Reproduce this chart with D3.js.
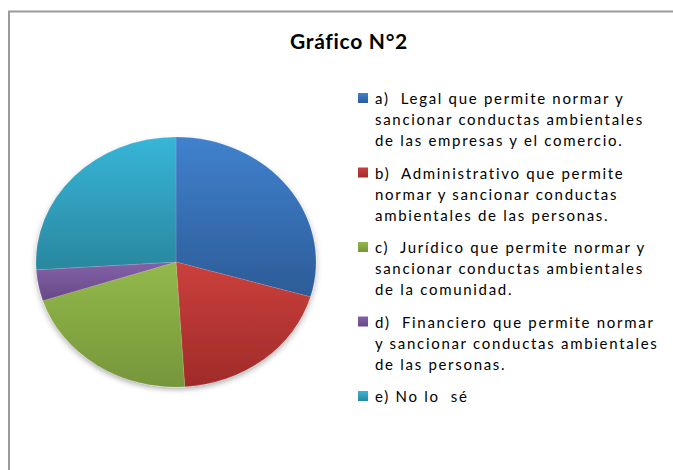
<!DOCTYPE html>
<html>
<head>
<meta charset="utf-8">
<script src="https://cdn.jsdelivr.net/npm/d3@7"></script>
<style>
  html, body { margin: 0; padding: 0; background: #fff; }
  svg { display: block; }
</style>
</head>
<body>
<div id="chart"></div>
<script>
// data (share of answers, %)
const categories = ["a", "b", "c", "d", "e"];
const values = [29.5, 19.5, 21, 4, 26];
const legendLines = [
  ["a)  Legal que permite normar y", "sancionar conductas ambientales", "de las empresas y el comercio."],
  ["b)  Administrativo que permite", "normar y sancionar conductas", "ambientales de las personas."],
  ["c)  Jurídico que permite normar y", "sancionar conductas ambientales", "de la comunidad."],
  ["d)  Financiero que permite normar", "y sancionar conductas ambientales", "de las personas."],
  ["e) No lo  sé"]
];
const colorsTop = ["#4081ce", "#cc403c", "#93b94b", "#8461a8", "#37b5d8"];
const colorsBottom = ["#2c5c97", "#9f2b29", "#76963a", "#684987", "#2a879f"];

const width = 673, height = 470;
const cx = 176, cy = 262, rx = 140, ry = 125;

const svg = d3.select("#chart").append("svg")
  .attr("width", width)
  .attr("height", height);

const defs = svg.append("defs");

categories.forEach((c, i) => {
  const g = defs.append("linearGradient")
    .attr("id", "grad-" + c)
    .attr("x1", 0).attr("y1", 0).attr("x2", 0).attr("y2", 1);
  g.append("stop").attr("offset", "0%").attr("stop-color", colorsTop[i]);
  g.append("stop").attr("offset", "100%").attr("stop-color", colorsBottom[i]);
});

const shadow = defs.append("filter")
  .attr("id", "shadow")
  .attr("x", "-20%").attr("y", "-20%")
  .attr("width", "140%").attr("height", "140%");
shadow.append("feDropShadow")
  .attr("dx", 0).attr("dy", 3)
  .attr("stdDeviation", 3)
  .attr("flood-color", "#000")
  .attr("flood-opacity", 0.3);

// frame (left and top edges of the chart area)
svg.append("path")
  .attr("d", `M9,${height} V11.5 H${width}`)
  .attr("fill", "none")
  .attr("stroke", "#9a9a9a")
  .attr("stroke-width", 2);

// title
svg.append("text")
  .attr("x", 349)
  .attr("y", 49)
  .attr("text-anchor", "middle")
  .style("font-family", "Lato, 'Open Sans', sans-serif")
  .style("font-weight", "bold")
  .style("font-size", "21px")
  .style("letter-spacing", "0.7px")
  .attr("fill", "#000")
  .text("Gráfico N°2");

// pie (slightly squashed vertically like the original)
const pie = d3.pie().sort(null).value(d => d);
const arc = d3.arc().innerRadius(0).outerRadius(rx);

const pieG = svg.append("g")
  .attr("transform", `translate(${cx},${cy}) scale(1,${ry / rx})`)
  .attr("filter", "url(#shadow)");

pieG.selectAll("path")
  .data(pie(values))
  .enter().append("path")
  .attr("d", arc)
  .attr("fill", (d, i) => `url(#grad-${categories[i]})`)
  .attr("stroke", "#fff")
  .attr("stroke-opacity", 0.25)
  .attr("stroke-width", 0.5);

// legend
const legendX = 358, firstBase = 104, lineH = 21, entryStep = 74.5;

const legend = svg.append("g")
  .style("font-family", "Lato, 'Open Sans', sans-serif")
  .style("font-size", "15px")
  .style("letter-spacing", "1.7px")
  .attr("fill", "#000");

categories.forEach((c, i) => {
  const base = firstBase + i * entryStep;
  legend.append("rect")
    .attr("x", legendX)
    .attr("y", base - 11)
    .attr("width", 10)
    .attr("height", 10)
    .attr("fill", `url(#grad-${c})`);
  const t = legend.append("text")
    .attr("x", legendX + 17)
    .attr("y", base)
    .attr("xml:space", "preserve")
    .style("white-space", "pre");
  legendLines[i].forEach((line, j) => {
    t.append("tspan")
      .attr("x", legendX + 17)
      .attr("y", base + j * lineH)
      .text(line);
  });
});
</script>
</body>
</html>
